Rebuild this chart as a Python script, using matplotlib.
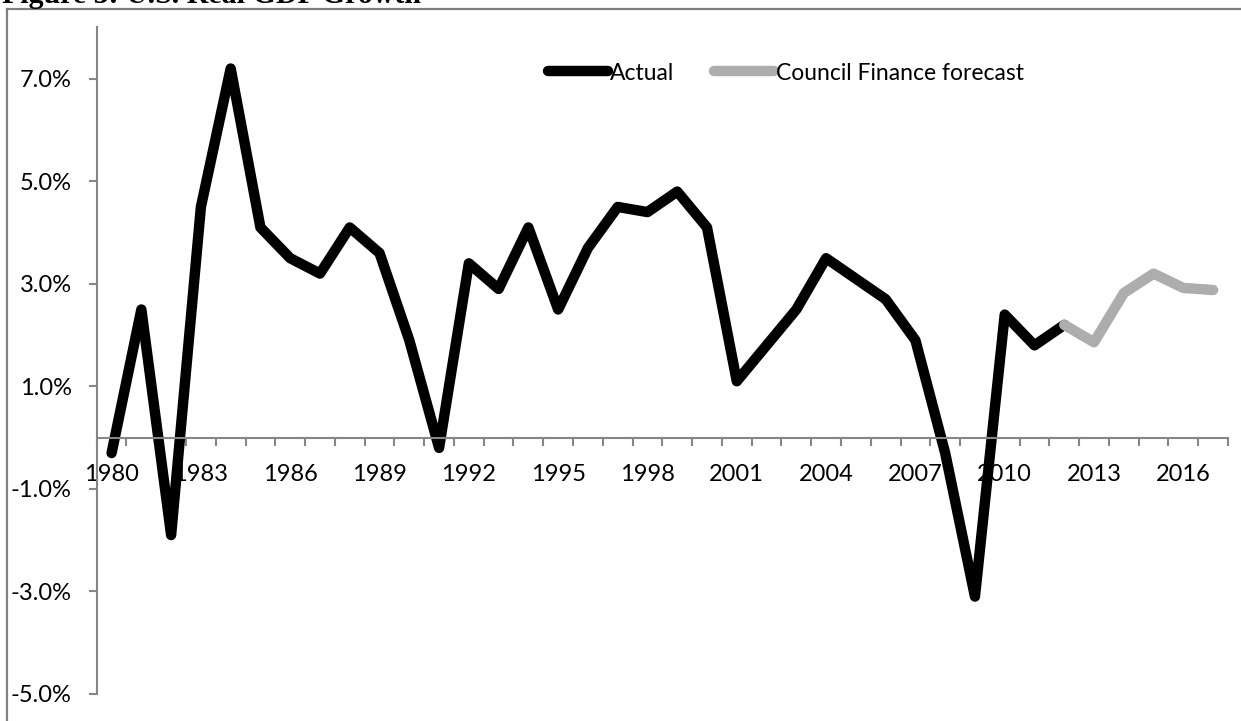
import matplotlib.pyplot as plt
from matplotlib.lines import Line2D
import numpy as np

# Data
years = list(range(1980, 2018))
actual_years = list(range(1980, 2013))
actual = [-0.3, 2.5, -1.9, 4.5, 7.2, 4.1, 3.5, 3.2, 4.1, 3.6, 1.9, -0.2,
          3.4, 2.9, 4.1, 2.5, 3.7, 4.5, 4.4, 4.8, 4.1, 1.1, 1.8, 2.5, 3.5,
          3.1, 2.7, 1.9, -0.3, -3.1, 2.4, 1.8, 2.2]
forecast_years = list(range(2012, 2018))
forecast = [2.2, 1.86, 2.82, 3.2, 2.92, 2.88]
y_ticks = [-5, -3, -1, 1, 3, 5, 7]

W, H = 1241, 721
fig = plt.figure(figsize=(W / 100, H / 100), dpi=100)
ax = fig.add_axes([96.7 / W, 1 - 694 / H, (1228 - 96.7) / W, (694 - 27.5) / H])

font = 'Lato'
axis_col = '#868686'

# category positions
x_act = [years.index(y) for y in actual_years]
x_fc = [years.index(y) for y in forecast_years]

ax.plot(x_act, actual, color='black', lw=7.5, solid_capstyle='round',
        solid_joinstyle='round', label='Actual')
ax.plot(x_fc, forecast, color='#ADADAD', lw=7.5, solid_capstyle='round',
        solid_joinstyle='round', label='Council Finance forecast')

ax.set_xlim(-0.5, len(years) - 0.5)
ax.set_ylim(-5, 8)

for s in ['top', 'right']:
    ax.spines[s].set_visible(False)
ax.spines['bottom'].set_position(('data', 0))
for s in ['left', 'bottom']:
    ax.spines[s].set_color(axis_col)
    ax.spines[s].set_linewidth(1.5)

ax.set_yticks(y_ticks)
ax.set_yticklabels([f'{v:.1f}%' for v in y_ticks], fontsize=17, family=font)
ax.tick_params(axis='y', length=6, width=1.5, color=axis_col, pad=12)

ax.set_xticks(np.arange(0, len(years), 3))
ax.set_xticklabels([str(y) for y in years[::3]], fontsize=17, family=font)
ax.set_xticks(np.arange(-0.5, len(years), 1), minor=True)
ax.tick_params(axis='x', which='major', length=0, pad=19)
ax.tick_params(axis='x', which='minor', length=6, width=1.5, color=axis_col)

fig.legend(loc='center left', bbox_to_anchor=(548 / W, 1 - 73 / H),
           frameon=False, ncol=2, borderpad=0, borderaxespad=0,
           handlelength=2.6, handletextpad=0.1, columnspacing=1.75,
           prop={'family': font, 'size': 16.5})

# outer frame (top and left edges visible)
frame_kw = dict(color='#808080', lw=1.6, transform=fig.transFigure)
fig.add_artist(Line2D([7 / W, 1], [1 - 8.5 / H, 1 - 8.5 / H], **frame_kw))
fig.add_artist(Line2D([7 / W, 7 / W], [0, 1 - 8.5 / H], **frame_kw))

# title, cut off at the top edge as in the source
fig.text(2 / W, 1 - 3 / H, 'Figure 3: U.S. Real GDP Growth', fontsize=21.5,
         fontweight='bold', family='Liberation Serif', va='baseline')

fig.savefig('out.png', dpi=100)
